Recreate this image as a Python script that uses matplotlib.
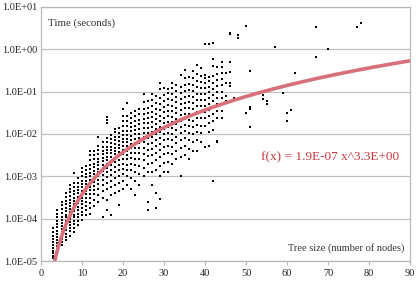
import matplotlib
matplotlib.use('Agg')
import matplotlib.pyplot as plt
import numpy as np
from matplotlib.ticker import FixedLocator, FuncFormatter

# tree sizes with a dense column of runs each (log10 of time in seconds)
sizes = list(range(3, 47))
log_times = [
    [-4.93, -4.88, -4.82, -4.76, -4.70, -4.62, -4.55, -4.48, -4.40, -4.32, -4.22],
    [-4.72, -4.65, -4.58, -4.50, -4.43, -4.36, -4.28, -4.20, -4.12, -4.05, -3.96, -3.88, -3.80],
    [-4.62, -4.55, -4.47, -4.40, -4.32, -4.25, -4.18, -4.10, -4.02, -3.95, -3.87, -3.78, -3.68, -3.60],
    [-4.50, -4.42, -4.35, -4.27, -4.20, -4.12, -4.05, -3.97, -3.90, -3.82, -3.75, -3.66, -3.58, -3.48, -3.40],
    [-4.40, -4.30, -4.22, -4.15, -4.07, -4.00, -3.92, -3.85, -3.77, -3.70, -3.62, -3.55, -3.46, -3.38, -3.30, -3.20],
    [-4.32, -4.22, -4.13, -4.05, -3.97, -3.90, -3.82, -3.74, -3.66, -3.58, -3.50, -3.42, -3.34, -3.25, -3.15, -2.93],
    [-4.15, -4.05, -3.96, -3.88, -3.80, -3.72, -3.64, -3.56, -3.48, -3.40, -3.32, -3.24, -3.15, -3.05],
    [-4.02, -3.92, -3.83, -3.75, -3.66, -3.58, -3.50, -3.42, -3.34, -3.26, -3.18, -3.10, -3.00, -2.90, -2.80],
    [-3.92, -3.80, -3.70, -3.60, -3.50, -3.42, -3.34, -3.26, -3.18, -3.10, -3.02, -2.94, -2.85, -2.75],
    [-3.88, -3.75, -3.62, -3.52, -3.42, -3.33, -3.25, -3.16, -3.08, -3.00, -2.92, -2.83, -2.74, -2.62, -2.50, -2.40],
    [-3.70, -3.55, -3.42, -3.32, -3.22, -3.13, -3.04, -2.95, -2.87, -2.78, -2.70, -2.60, -2.50, -2.40],
    [-3.60, -3.45, -3.30, -3.18, -3.08, -2.98, -2.90, -2.82, -2.74, -2.66, -2.58, -2.48, -2.38, -2.28, -2.07],
    [-3.96, -3.50, -3.35, -3.20, -3.08, -2.97, -2.88, -2.80, -2.72, -2.64, -2.56, -2.48, -2.40, -2.30, -2.20],
    [-3.80, -3.56, -3.30, -3.15, -3.02, -2.90, -2.80, -2.70, -2.62, -2.54, -2.46, -2.38, -2.30, -2.20, -2.10, -1.75, -1.68, -1.60],
    [-3.90, -3.45, -3.25, -3.10, -2.96, -2.84, -2.73, -2.63, -2.54, -2.46, -2.38, -2.30, -2.22, -2.12, -2.02],
    [-3.40, -3.20, -3.05, -2.90, -2.78, -2.67, -2.57, -2.48, -2.40, -2.32, -2.24, -2.15, -2.06, -1.96, -1.88],
    [-3.68, -3.35, -3.15, -2.98, -2.85, -2.73, -2.62, -2.52, -2.43, -2.34, -2.25, -2.16, -2.07, -1.97, -1.87],
    [-3.30, -3.10, -2.95, -2.82, -2.70, -2.58, -2.48, -2.38, -2.29, -2.20, -2.11, -2.02, -1.92, -1.82, -1.70, -1.58, -1.40],
    [-3.20, -3.00, -2.85, -2.72, -2.60, -2.49, -2.39, -2.29, -2.20, -2.11, -2.02, -1.92, -1.82, -1.70, -1.58, -1.27],
    [-3.30, -3.05, -2.85, -2.70, -2.57, -2.45, -2.34, -2.24, -2.14, -2.04, -1.94, -1.84, -1.73, -1.62, -1.50],
    [-3.45, -3.10, -2.90, -2.72, -2.58, -2.45, -2.33, -2.22, -2.11, -2.00, -1.90, -1.80, -1.70, -1.58, -1.45],
    [-3.20, -2.95, -2.76, -2.60, -2.46, -2.33, -2.21, -2.10, -1.99, -1.88, -1.77, -1.66, -1.54, -1.40],
    [-3.00, -2.80, -2.62, -2.47, -2.33, -2.20, -2.08, -1.97, -1.86, -1.75, -1.64, -1.52, -1.40, -1.25, -1.06],
    [-3.80, -3.60, -2.90, -2.70, -2.52, -2.37, -2.23, -2.10, -1.98, -1.86, -1.75, -1.63, -1.51, -1.38, -1.22],
    [-3.20, -2.90, -2.68, -2.50, -2.35, -2.21, -2.08, -1.96, -1.84, -1.72, -1.60, -1.48, -1.35, -1.20, -1.06],
    [-3.75, -3.40, -2.85, -2.62, -2.44, -2.28, -2.14, -2.01, -1.89, -1.77, -1.65, -1.53, -1.40, -1.26, -1.10],
    [-3.54, -3.00, -2.75, -2.55, -2.38, -2.23, -2.09, -1.96, -1.83, -1.70, -1.57, -1.44, -1.30, -1.15, -0.95, -0.80],
    [-2.90, -2.68, -2.48, -2.30, -2.15, -2.01, -1.88, -1.75, -1.62, -1.49, -1.36, -1.22, -1.08, -0.92],
    [-2.90, -2.65, -2.45, -2.28, -2.12, -1.98, -1.84, -1.71, -1.58, -1.45, -1.32, -1.18, -1.04, -0.94],
    [-2.70, -2.48, -2.30, -2.14, -1.99, -1.85, -1.72, -1.59, -1.46, -1.33, -1.20, -1.06, -0.92, -0.80],
    [-2.60, -2.40, -2.22, -2.06, -1.91, -1.77, -1.64, -1.51, -1.38, -1.25, -1.12, -0.98, -0.85],
    [-3.00, -2.55, -2.32, -2.14, -1.98, -1.83, -1.69, -1.56, -1.43, -1.30, -1.17, -1.03, -0.88, -0.60],
    [-2.50, -2.28, -2.10, -1.94, -1.79, -1.65, -1.52, -1.39, -1.26, -1.13, -0.99, -0.84, -0.68, -0.49],
    [-2.60, -2.35, -2.15, -1.98, -1.82, -1.67, -1.53, -1.39, -1.25, -1.11, -0.97, -0.82, -0.65],
    [-2.40, -2.18, -2.00, -1.84, -1.69, -1.55, -1.41, -1.27, -1.13, -0.99, -0.84, -0.68, -0.52],
    [-2.40, -2.15, -1.95, -1.78, -1.62, -1.47, -1.33, -1.19, -1.05, -0.90, -0.75, -0.58, -0.37],
    [-2.20, -1.98, -1.80, -1.63, -1.48, -1.34, -1.20, -1.06, -0.92, -0.78, -0.62, -0.45],
    [-2.30, -1.80, -1.62, -1.47, -1.33, -1.19, -1.05, -0.92, -0.80, -0.68, -0.60, 0.12],
    [-2.29, -1.95, -1.75, -1.58, -1.43, -1.29, -1.15, -1.01, -0.88, -0.75, -0.65, 0.12],
    [-3.10, -1.90, -1.70, -1.52, -1.37, -1.22, -1.08, -0.94, -0.80, -0.62, -0.40, -0.24, 0.14],
    [-2.20, -2.17, -1.62, -1.45, -1.30, -1.15, -1.00, -0.86, -0.72, -0.58, -0.42],
    [-1.62, -1.45, -1.30, -1.15, -1.00, -0.85, -0.70, -0.55, -0.42, -0.30],
    [-1.22, -1.10, -0.80, -0.55],
    [-0.87, -0.80, -0.53, -0.30, 0.35, 0.39],
]

# sparse runs on bigger trees
big_sizes = [47, 48, 48, 50, 50, 51, 51, 51, 51, 54, 54, 55, 55, 57, 59, 60, 60, 61, 62, 67, 67, 70, 77, 78]
big_log_times = [-1.16, 0.27, 0.34, 0.55, -1.50, -0.51, -1.36, -1.40, -1.84, -1.08, -1.18, -1.22, -1.30,
                 0.05, -1.03, -1.50, -1.70, -1.43, -0.55, 0.53, -0.18, 0.00, 0.52, 0.62]

# power-law fit
fit_a = 1.9e-07
fit_b = 3.3

x = []
y = []
for s, col in zip(sizes, log_times):
    x += [s] * len(col)
    y += col
x += big_sizes
y += big_log_times
x = np.array(x)
t = 10 ** np.array(y)

plt.rcParams['font.family'] = ['Liberation Serif', 'DejaVu Serif']

fig = plt.figure(figsize=(4.19, 2.86), dpi=100)
ax = fig.add_axes([0.098, 0.087, 0.881, 0.889])

ax.set_yscale('log')
ax.set_xlim(0, 90)
ax.set_ylim(1e-5, 1e1)

ax.scatter(x, t, s=4.5, marker='s', color='black', linewidths=0, zorder=3)

xf = np.linspace(3.3, 90, 300)
ax.plot(xf, fit_a * xf ** fit_b, color='#d8707a', lw=2.6, zorder=4, solid_capstyle='butt')

ax.yaxis.set_major_locator(FixedLocator([1e-5, 1e-4, 1e-3, 1e-2, 1e-1, 1e0, 1e1]))
ax.yaxis.set_minor_locator(FixedLocator([]))
ax.yaxis.set_major_formatter(FuncFormatter(lambda v, p: '%.1E' % v))
ax.set_xticks(range(0, 91, 10))

ax.grid(True, axis='y', color='#c0c0c0', lw=0.9)
ax.set_axisbelow(True)
for sp in ax.spines.values():
    sp.set_color('#b8b8b8')
    sp.set_linewidth(0.9)
ax.tick_params(axis='y', length=0, labelsize=7.5, pad=3, labelcolor='#222222')
ax.tick_params(axis='x', length=3, color='#b8b8b8', labelsize=7.5, pad=3, labelcolor='#222222')

ax.text(0.02, 0.955, 'Time (seconds)', transform=ax.transAxes, fontsize=7.8,
        color='#333333', va='top', ha='left')
ax.text(0.985, 0.03, 'Tree size (number of nodes)', transform=ax.transAxes, fontsize=7.5,
        color='#333333', va='bottom', ha='right')
ax.text(0.97, 0.41, 'f(x) = 1.9E-07 x^3.3E+00', transform=ax.transAxes, fontsize=9.5,
        color='#c8373f', va='center', ha='right')

fig.savefig('out.png', dpi=100)
